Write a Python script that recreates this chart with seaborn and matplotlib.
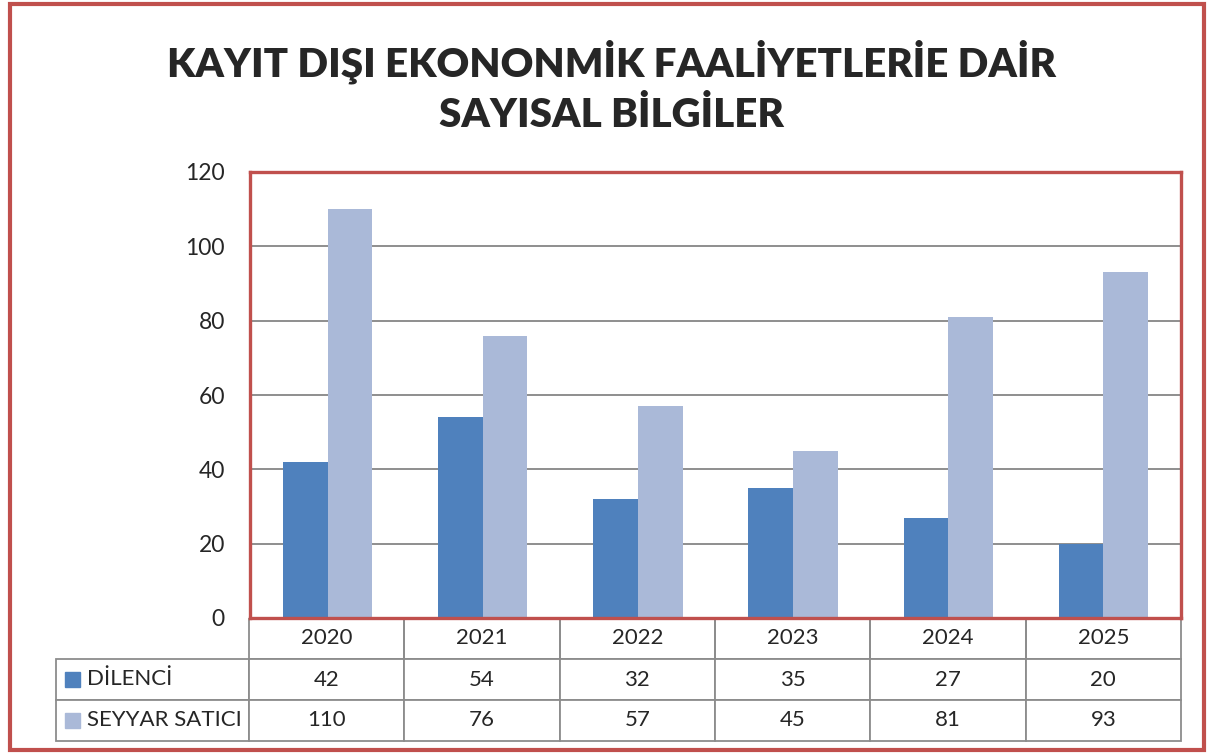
import pandas as pd
import seaborn as sns
import matplotlib.pyplot as plt
from matplotlib.patches import Rectangle

# chart values
years = ["2020", "2021", "2022", "2023", "2024", "2025"]
series_names = ["DİLENCİ", "SEYYAR SATICI"]
dilenci = [42, 54, 32, 35, 27, 20]
seyyar = [110, 76, 57, 45, 81, 93]
yticks = [0, 20, 40, 60, 80, 100, 120]
colors = ["#4F81BD", "#AAB9D8"]
red = "#C0504D"

df = pd.DataFrame({
    "year": years * 2,
    "series": [series_names[0]] * len(years) + [series_names[1]] * len(years),
    "value": dilenci + seyyar,
})

sns.set_style("white")
plt.rcParams['font.family'] = ['Lato', 'DejaVu Sans']

fig = plt.figure(figsize=(12.11, 7.55), dpi=100)
ax = fig.add_axes([250 / 1211, 1 - 618 / 755, 931 / 1211, 446 / 755])

sns.barplot(data=df, x="year", y="value", hue="series", palette=colors,
            width=0.575, gap=0, saturation=1, legend=False, linewidth=0, ax=ax)

ax.set_ylim(0, 120)
ax.set_yticks(yticks)
ax.set_xlabel("")
ax.set_ylabel("")
ax.set_xticks([])
ax.tick_params(axis="y", length=0, pad=18, labelsize=16.5)
ax.yaxis.grid(True, color="#868686", linewidth=1.3)
ax.set_axisbelow(True)
for s in ax.spines.values():
    s.set_color(red)
    s.set_linewidth(2.4)

# data table below the plot
cell_text = [[""] + years,
             [""] + [str(v) for v in dilenci],
             [""] + [str(v) for v in seyyar]]
label_w = 193 / 1125
col_w = (1 - label_w) / 6
tab = ax.table(cellText=cell_text, cellLoc="center",
               colWidths=[label_w] + [col_w] * 6,
               bbox=[-194 / 931, -123 / 446, 1125 / 931, 123 / 446])
tab.auto_set_font_size(False)
tab.set_fontsize(16)
for (r, c), cell in tab.get_celld().items():
    cell.set_edgecolor("#8C8C8C")
    cell.set_linewidth(1.3)
    if r == 0 and c == 0:
        cell.visible_edges = ""
    elif r == 0:
        cell.visible_edges = "LRB"

# row labels with legend keys
row_y = [-61 / 446, -102 / 446]
for name, col, y in zip(series_names, colors, row_y):
    ax.add_patch(Rectangle((-185 / 931, y - 7.5 / 446), 15 / 931, 15 / 446,
                           transform=ax.transAxes, color=col, clip_on=False))
    ax.text(-163 / 931, y, name, transform=ax.transAxes, fontsize=16,
            va="center", ha="left")

fig.text(0.505, 0.885, "KAYIT DIŞI EKONONMİK FAALİYETLERİE DAİR\nSAYISAL BİLGİLER",
         ha="center", va="center", fontsize=29, fontweight="heavy", linespacing=1.45)

# outer border
fig.patches.append(Rectangle((10 / 1211, 5 / 755), 1194 / 1211, 746 / 755,
                             transform=fig.transFigure, fill=False,
                             edgecolor=red, linewidth=3))

plt.savefig("out.png", dpi=100)
